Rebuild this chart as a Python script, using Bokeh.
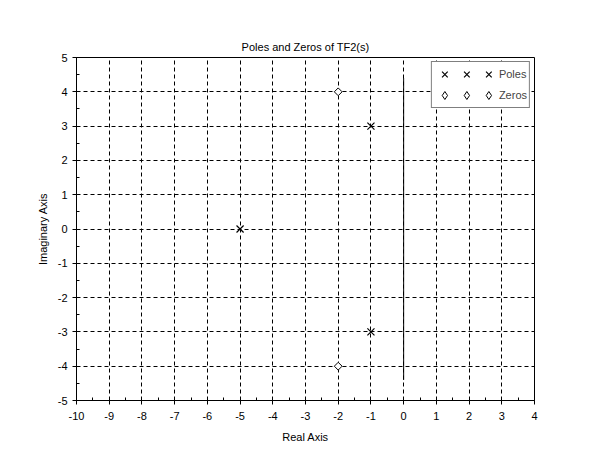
from bokeh.plotting import figure
from bokeh.models import SingleIntervalTicker, Range1d, Legend, LegendItem, PrintfTickFormatter
from bokeh.embed import file_html
from bokeh.resources import INLINE
import math

# data
pole_re = [-1, -1, -5]
pole_im = [3, -3, 0]
zero_re = [-2, -2]
zero_im = [4, -4]
jw_axis_re = [0, 0]
jw_axis_im = [-4.4, 4.4]
x_limits = (-10, 4)
y_limits = (-5, 5)
title_text = "Poles and Zeros of TF2(s)"
x_label = "Real Axis"
y_label = "Imaginary Axis"

FONT = "Liberation Sans"

p = figure(width=610, height=460, output_backend="svg", toolbar_location=None,
           x_range=Range1d(*x_limits), y_range=Range1d(*y_limits),
           title=title_text, min_border_left=76, min_border_right=76,
           min_border_top=57, min_border_bottom=60)
p.background_fill_color = "white"
p.border_fill_color = "white"
p.outline_line_color = "black"
p.outline_line_width = 1

p.title.align = "center"
p.title.text_font = FONT
p.title.text_font_size = "11px"
p.title.text_font_style = "normal"
p.title.text_color = "black"
p.title.standoff = 10

for ax in (p.xaxis[0], p.yaxis[0]):
    ax.ticker = SingleIntervalTicker(interval=1, num_minor_ticks=2)
    ax.formatter = PrintfTickFormatter(format="%d")
    ax.axis_line_color = "black"
    ax.major_tick_line_color = "black"
    ax.minor_tick_line_color = "black"
    ax.major_tick_out = 4
    ax.major_tick_in = 0
    ax.minor_tick_out = 0
    ax.minor_tick_in = 3
    ax.major_label_text_font = FONT
    ax.major_label_text_font_size = "11px"
    ax.major_label_text_color = "black"
    ax.axis_label_text_font = FONT
    ax.axis_label_text_font_size = "11px"
    ax.axis_label_text_font_style = "normal"
    ax.axis_label_text_color = "black"

p.xaxis.axis_label = x_label
p.yaxis.axis_label = y_label
p.xaxis.major_label_standoff = 7
p.xaxis.axis_label_standoff = 8
p.yaxis.major_label_standoff = 5
p.yaxis.axis_label_standoff = 6

for g in (p.xgrid[0], p.ygrid[0]):
    g.ticker = SingleIntervalTicker(interval=1)
    g.grid_line_color = "black"
    g.grid_line_dash = "4 3"
    g.grid_line_width = 1

p.line(jw_axis_re, jw_axis_im, line_color="black", line_width=1)

rp = p.scatter(pole_re, pole_im, marker="x", size=10, line_color="black", line_width=1.2)
rz = p.scatter(zero_re, zero_im, marker="square", size=5.5, angle=math.pi / 4,
               line_color="black", fill_color="white", line_width=1)
# legend-only glyph for the zeros (legend ignores marker angle)
rz_leg = p.scatter(zero_re, zero_im, marker="diamond", size=8, line_color="black",
                   fill_color="white", line_width=1, visible=False)

items = [
    LegendItem(label="", renderers=[rp]),
    LegendItem(label="", renderers=[rp]),
    LegendItem(label="Poles", renderers=[rp]),
    LegendItem(label="", renderers=[rz_leg]),
    LegendItem(label="", renderers=[rz_leg]),
    LegendItem(label="Zeros", renderers=[rz_leg]),
]
legend = Legend(items=items, location="top_right", orientation="horizontal", ncols=3,
                border_line_color="black", border_line_width=1,
                background_fill_alpha=1, background_fill_color="white",
                glyph_width=21, glyph_height=20, label_width=0, label_standoff=0,
                label_text_font=FONT, label_text_font_size="11px",
                padding=2, spacing=1, margin=4, label_height=14)
p.add_layout(legend)

open("out.html", "w").write(file_html(p, INLINE))
